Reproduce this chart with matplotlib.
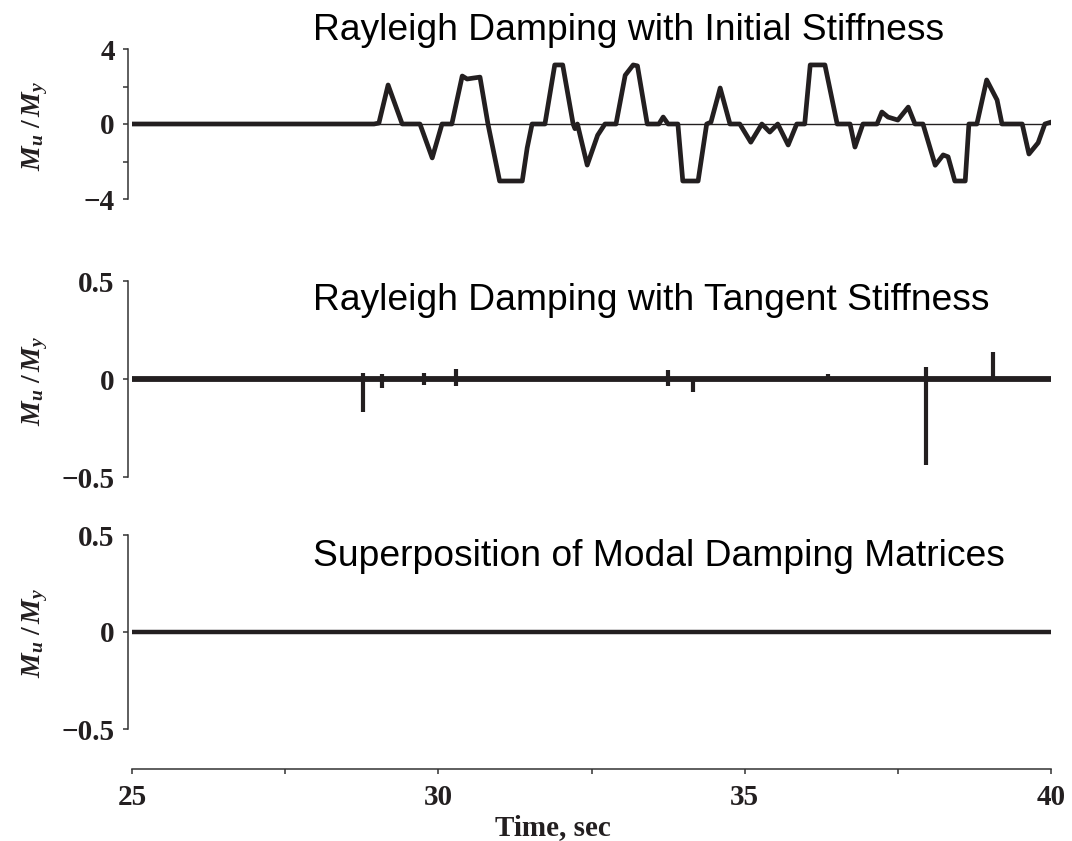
import numpy as np
import matplotlib.pyplot as plt

# ---- data ----
# panel 1: Rayleigh damping, initial stiffness (breakpoints of the trace)
t_init = [25.0, 28.95, 29.03, 29.18, 29.41, 29.70, 29.90, 30.06, 30.22, 30.39,
          30.47, 30.57, 30.68, 30.81, 31.00, 31.37, 31.45, 31.53, 31.74, 31.90,
          32.03, 32.20, 32.23, 32.27, 32.43, 32.60, 32.72, 32.90, 33.05, 33.18,
          33.25, 33.41, 33.60, 33.67, 33.75, 33.91, 33.99, 34.24, 34.38, 34.45,
          34.60, 34.76, 34.92, 35.10, 35.28, 35.41, 35.54, 35.71, 35.85, 35.98,
          36.07, 36.31, 36.51, 36.72, 36.80, 36.93, 37.16, 37.24, 37.34, 37.50,
          37.67, 37.78, 37.91, 38.11, 38.24, 38.32, 38.43, 38.60, 38.66, 38.79,
          38.95, 39.12, 39.20, 39.53, 39.64, 39.79, 39.90, 40.0]
m_init = [0.0, 0.0, 0.05, 2.08, 0.0, 0.0, -1.81, 0.0, 0.0, 2.56,
          2.40, 2.45, 2.50, 0.0, -3.04, -3.04, -1.28, 0.0, 0.0, 3.15,
          3.15, 0.0, -0.25, 0.0, -2.19, -0.60, 0.0, 0.0, 2.60, 3.15,
          3.10, 0.0, 0.0, 0.37, 0.0, 0.0, -3.04, -3.04, 0.0, 0.10,
          1.92, 0.0, 0.0, -0.97, 0.0, -0.43, 0.0, -1.12, 0.0, 0.0,
          3.15, 3.15, 0.0, 0.0, -1.23, 0.0, 0.0, 0.64, 0.37, 0.21,
          0.90, 0.0, 0.0, -2.20, -1.65, -1.75, -3.04, -3.04, 0.0, 0.0,
          2.35, 1.28, 0.0, 0.0, -1.60, -1.00, 0.0, 0.10]

# panel 2: Rayleigh damping, tangent stiffness (short spikes on a zero trace)
spike_t = [28.77, 29.08, 29.77, 30.29, 30.99, 31.95, 32.93, 33.75, 34.16,
           36.36, 37.96, 38.93, 39.05, 39.20]
spike_lo = [-0.17, -0.045, -0.03, -0.035, 0.0, 0.0, 0.0, -0.035, -0.065,
            0.0, -0.44, -0.01, -0.01, -0.01]
spike_hi = [0.03, 0.025, 0.03, 0.05, 0.012, 0.012, 0.012, 0.045, 0.01,
            0.025, 0.06, 0.01, 0.14, 0.01]

# panel 3: superposition of modal damping matrices (practically zero)
dot_t = [28.7, 31.12, 32.02, 38.47]
dot_v = [0.012, 0.012, 0.012, 0.012]

titles = ["Rayleigh Damping with Initial Stiffness",
          "Rayleigh Damping with Tangent Stiffness",
          "Superposition of Modal Damping Matrices"]

# ---- figure ----
W, H = 1072, 841
fig = plt.figure(figsize=(W / 100, H / 100), dpi=100)
ink = '#231f20'
axc = '#333333'
serif = 'Liberation Serif'

def px(x0, y_top, x1, y_bot):
    return [x0 / W, 1 - y_bot / H, (x1 - x0) / W, (y_bot - y_top) / H]

ax1 = fig.add_axes(px(132, 49, 1051, 199))
ax2 = fig.add_axes(px(132, 281, 1051, 477))
ax3 = fig.add_axes(px(132, 535, 1051, 729))

ax1.axhline(0, color=ink, lw=1.0, zorder=1)
ax1.plot(t_init, m_init, color=ink, lw=3.4, solid_joinstyle='round', zorder=2)
ax1.set_ylim(-4, 4)
ax1.set_yticks([-4, -2, 0, 2, 4])
ax1.set_yticklabels(['\u22124', '', '0', '', '4'])

ax2.plot([25, 40], [0, 0], color=ink, lw=4.2, solid_capstyle='butt')
ax2.vlines(spike_t, spike_lo, spike_hi, color=ink, lw=3.0)
ax2.set_ylim(-0.5, 0.5)
ax2.set_yticks([-0.5, 0, 0.5])
ax2.set_yticklabels(['\u22120.5', '0', '0.5'])

ax3.plot([25, 40], [0, 0], color=ink, lw=3.2, solid_capstyle='butt')
ax3.vlines(dot_t, 0, dot_v, color=ink, lw=2.0)
ax3.set_ylim(-0.5, 0.5)
ax3.set_yticks([-0.5, 0, 0.5])
ax3.set_yticklabels(['\u22120.5', '0', '0.5'])

for ax, ttl, ty in zip([ax1, ax2, ax3], titles, [30, 300, 556]):
    ax.set_xlim(25, 40)
    for s in ['top', 'right']:
        ax.spines[s].set_visible(False)
    ax.spines['left'].set_position(('outward', 3))
    ax.spines['left'].set_color(axc)
    ax.spines['left'].set_linewidth(1.1)
    ax.tick_params(axis='y', direction='out', length=3.5, width=1.1, color=axc,
                   pad=6, labelsize=21, labelcolor=ink)
    for lb in ax.get_yticklabels():
        lb.set_family(serif)
        lb.set_weight('bold')
    if ax is not ax3:
        ax.spines['bottom'].set_visible(False)
        ax.set_xticks([])
    fig.text(313 / W, 1 - ty / H, ttl, ha='left', va='center',
             fontsize=26.8, family='Liberation Sans', color='black')

# bottom time axis, offset below the last panel
ax3.spines['bottom'].set_position(('outward', 29))
ax3.spines['bottom'].set_color(axc)
ax3.spines['bottom'].set_linewidth(1.1)
ax3.set_xticks([25, 30, 35, 40])
ax3.set_xticks([27.5, 32.5, 37.5], minor=True)
ax3.tick_params(axis='x', which='both', direction='out', length=3.5, width=1.1,
                color=axc, pad=7, labelsize=21, labelcolor=ink)
for lb in ax3.get_xticklabels():
    lb.set_family(serif)
    lb.set_weight('bold')

plt.rcParams['mathtext.fontset'] = 'custom'
plt.rcParams['mathtext.it'] = 'Liberation Serif:italic:bold'
plt.rcParams['mathtext.rm'] = 'Liberation Serif:bold'
for yc in [126, 381, 633]:
    fig.text(35 / W, 1 - yc / H, r'$M_u\ /\,M_y$', rotation=90,
             ha='center', va='center', fontsize=20, color=ink)

fig.text(553 / W, 1 - 828 / H, 'Time, sec', ha='center', va='center',
         fontsize=21, family=serif, weight='bold', color=ink)

fig.savefig('out.png', dpi=100)
